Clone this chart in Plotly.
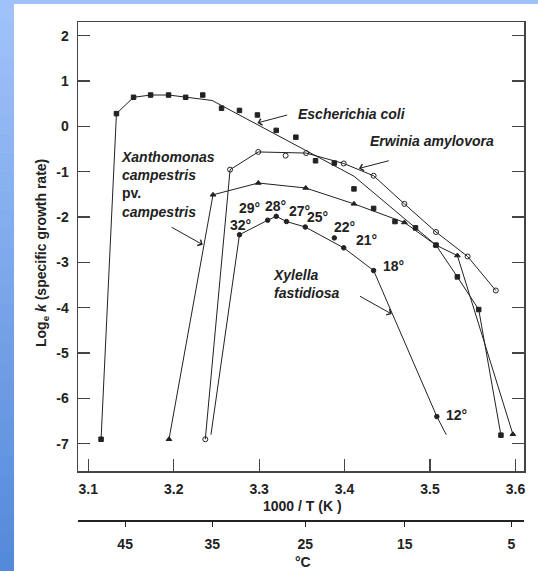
import plotly.graph_objects as go

# ---------------- data ----------------
ecoli_x = [3.115, 3.133, 3.153, 3.173, 3.194, 3.214, 3.234, 3.256, 3.277, 3.298, 3.320,
           3.343, 3.366, 3.388, 3.411, 3.434, 3.459, 3.483, 3.507, 3.532, 3.557, 3.583]
ecoli_y = [-6.90, 0.28, 0.64, 0.69, 0.69, 0.64, 0.69, 0.40, 0.35, 0.25, -0.09,
           -0.24, -0.76, -0.81, -1.38, -1.81, -2.10, -2.24, -2.62, -3.32, -4.04, -6.81]
ecoli_fit_x = [3.115, 3.133, 3.153, 3.173, 3.194, 3.214, 3.245, 3.411, 3.483, 3.507, 3.532, 3.557, 3.583]
ecoli_fit_y = [-6.90, 0.28, 0.64, 0.69, 0.69, 0.64, 0.57, -1.10, -2.24, -2.62, -3.32, -4.04, -6.81]

erw_x = [3.237, 3.266, 3.299, 3.331, 3.355, 3.399, 3.434, 3.470, 3.507, 3.544, 3.577]
erw_y = [-6.90, -0.955, -0.565, -0.646, -0.59, -0.82, -1.09, -1.71, -2.33, -2.87, -3.62]
erw_fit_x = [3.237, 3.266, 3.299, 3.355, 3.399, 3.434, 3.470, 3.507, 3.544, 3.577]
erw_fit_y = [-6.90, -0.955, -0.565, -0.59, -0.82, -1.09, -1.71, -2.33, -2.87, -3.62]

xan_x = [3.1945, 3.246, 3.299, 3.3545, 3.411, 3.470, 3.507, 3.532, 3.597]
xan_y = [-6.90, -1.51, -1.25, -1.36, -1.71, -2.12, -2.62, -2.85, -6.79]

xyl_x = [3.277, 3.310, 3.320, 3.332, 3.354, 3.388, 3.399, 3.434, 3.508]
xyl_y = [-2.39, -2.07, -1.985, -2.10, -2.22, -2.46, -2.68, -3.18, -6.40]
xyl_fit_x = [3.2436, 3.277, 3.310, 3.320, 3.332, 3.354, 3.399, 3.434, 3.508, 3.519]
xyl_fit_y = [-6.80, -2.39, -2.07, -1.985, -2.10, -2.22, -2.68, -3.18, -6.40, -6.80]

xyl_temp_labels = ["32°", "29°", "28°", "27°", "25°", "22°", "21°", "18°", "12°"]
xyl_label_x = [3.2776, 3.289, 3.3186, 3.3475, 3.3685, 3.4004, 3.4258, 3.4574, 3.5307]
xyl_label_y = [-2.17, -1.80, -1.75, -1.875, -2.01, -2.22, -2.50, -3.09, -6.36]

x_ticks = [3.1, 3.2, 3.3, 3.4, 3.5, 3.6]
y_ticks = [2, 1, 0, -1, -2, -3, -4, -5, -6, -7]
celsius_ticks = [45, 35, 25, 15, 5]

FONT = "Liberation Sans"
INK = "#222222"

fig = go.Figure()

def line(xs, ys):
    fig.add_trace(go.Scatter(x=xs, y=ys, mode="lines", line=dict(color=INK, width=1),
                             showlegend=False, hoverinfo="skip"))

def marks(xs, ys, symbol, size=5):
    fig.add_trace(go.Scatter(x=xs, y=ys, mode="markers",
                             marker=dict(symbol=symbol, size=size, color=INK,
                                         line=dict(color=INK, width=1)),
                             showlegend=False, hoverinfo="skip"))

line(ecoli_fit_x, ecoli_fit_y)
line(erw_fit_x, erw_fit_y)
line(xan_x, xan_y)
line(xyl_fit_x, xyl_fit_y)
marks(ecoli_x, ecoli_y, "square", 4.5)
marks(erw_x, erw_y, "circle-open", 5)
marks(xan_x, xan_y, "triangle-up", 5)
marks(xyl_x, xyl_y, "circle", 4.5)

# dummy trace carrying the Celsius axis
fig.add_trace(go.Scatter(x=[1000 / (c + 273.15) for c in celsius_ticks],
                         y=[None] * len(celsius_ticks), xaxis="x2", mode="markers",
                         showlegend=False, hoverinfo="skip"))

tf = dict(family=FONT, size=14, color=INK, weight="bold")

# pixel -> paper helpers for page layout
W, H = 538, 571
ML, MR, MT, MB = 78, 14, 22, 51
PW, PH = W - ML - MR, H - MT - MB
def px_x(p): return (p - ML) / PW
def px_y(p): return (H - MB - p) / PH

annotations = []
def label(x, y, text, xanchor="left", align="left"):
    annotations.append(dict(x=x, y=y, xref="x", yref="y", text=text, showarrow=False,
                            xanchor=xanchor, yanchor="middle", align=align, font=tf))

def arrow(x_head, y_head, x_tail, y_tail):
    annotations.append(dict(x=x_head, y=y_head, ax=x_tail, ay=y_tail, xref="x", yref="y",
                            axref="x", ayref="y", text="", showarrow=True, arrowhead=4,
                            arrowsize=1.3, arrowwidth=1, arrowcolor=INK, standoff=0))

label(3.3436, 0.28, "<i>Escherichia coli</i>")
label(3.4273, -0.33, "<i>Erwinia amylovora</i>")
label(3.1362, -1.275, "<i>Xanthomonas</i><br><i>campestris</i><br>pv.<br><i>campestris</i>")
label(3.3136, -3.47, "<i>Xylella</i><br><i>fastidiosa</i>")
for t, lx, ly in zip(xyl_temp_labels, xyl_label_x, xyl_label_y):
    label(lx, ly, t, xanchor="center", align="center")

arrow(3.298, 0.075, 3.3346, 0.258)
arrow(3.4168, -0.93, 3.4535, -0.75)
arrow(3.234, -2.61, 3.1957, -2.206)
arrow(3.4552, -4.14, 3.4162, -3.728)

# axis titles
annotations.append(dict(xref="paper", yref="paper", x=px_x(302), y=px_y(506),
                        text="1000 / T (K )", showarrow=False, xanchor="center",
                        yanchor="middle", font=tf))
annotations.append(dict(xref="paper", yref="paper", x=px_x(302.5), y=px_y(562),
                        text="°C", showarrow=False, xanchor="center",
                        yanchor="middle", font=tf))
annotations.append(dict(xref="paper", yref="paper", x=px_x(42), y=px_y(253),
                        text="Log<sub>e</sub> <i>k</i> (specific growth rate)", textangle=-90,
                        showarrow=False, xanchor="center", yanchor="middle", font=tf))

# background slide band (left gradient + top strip)
shapes = []
top_c = (160, 194, 250)
bot_c = (84, 138, 218)
n = 30
for i in range(n):
    f = i / (n - 1)
    c = tuple(int(round(top_c[k] + (bot_c[k] - top_c[k]) * f)) for k in range(3))
    shapes.append(dict(type="rect", xref="paper", yref="paper", layer="below",
                       x0=px_x(0), x1=px_x(14), y0=px_y(H * (i + 1) / n + 0.5), y1=px_y(H * i / n),
                       fillcolor="rgb(%d,%d,%d)" % c, line=dict(width=0)))
shapes.append(dict(type="rect", xref="paper", yref="paper", layer="below",
                   x0=px_x(0), x1=px_x(W), y0=px_y(4), y1=px_y(0),
                   fillcolor="rgb(%d,%d,%d)" % top_c, line=dict(width=0)))

fig.update_layout(
    width=W, height=H,
    margin=dict(l=ML, r=MR, t=MT, b=MB, autoexpand=False),
    paper_bgcolor="white", plot_bgcolor="white",
    font=dict(family=FONT, color=INK),
    showlegend=False,
    annotations=annotations,
    shapes=shapes,
    xaxis=dict(range=[3.088, 3.61], domain=[0, 1], tickvals=x_ticks,
               ticktext=["%.1f" % v for v in x_ticks],
               ticks="inside", ticklen=12, tickwidth=1.2, tickcolor="#444",
               showline=True, linecolor="#444", linewidth=1.5, mirror=True,
               showgrid=False, zeroline=False, tickfont=tf, ticklabelstandoff=5,
               automargin=False),
    yaxis=dict(range=[-7.6, 2.3], domain=[px_y(471), 1], tickvals=y_ticks,
               ticktext=[str(v) for v in y_ticks],
               ticks="inside", ticklen=12, tickwidth=1.2, tickcolor="#444",
               showline=True, linecolor="#444", linewidth=1.5, mirror="ticks",
               showgrid=False, zeroline=False, tickfont=tf, ticklabelstandoff=5,
               automargin=False),
    xaxis2=dict(range=[3.088, 3.61], overlaying="x", anchor="free", position=0, side="bottom",
                tickvals=[1000 / (c + 273.15) for c in celsius_ticks],
                ticktext=[str(c) for c in celsius_ticks],
                ticks="outside", ticklen=5, tickwidth=1.2, tickcolor=INK,
                showline=True, linecolor=INK, linewidth=1.5,
                showgrid=False, zeroline=False, tickfont=tf, ticklabelstandoff=6,
                automargin=False),
)

fig.write_html("out.html", config={"displayModeBar": False, "staticPlot": True},
               post_script="document.body.style.margin='0px';document.body.style.overflow='hidden';")
